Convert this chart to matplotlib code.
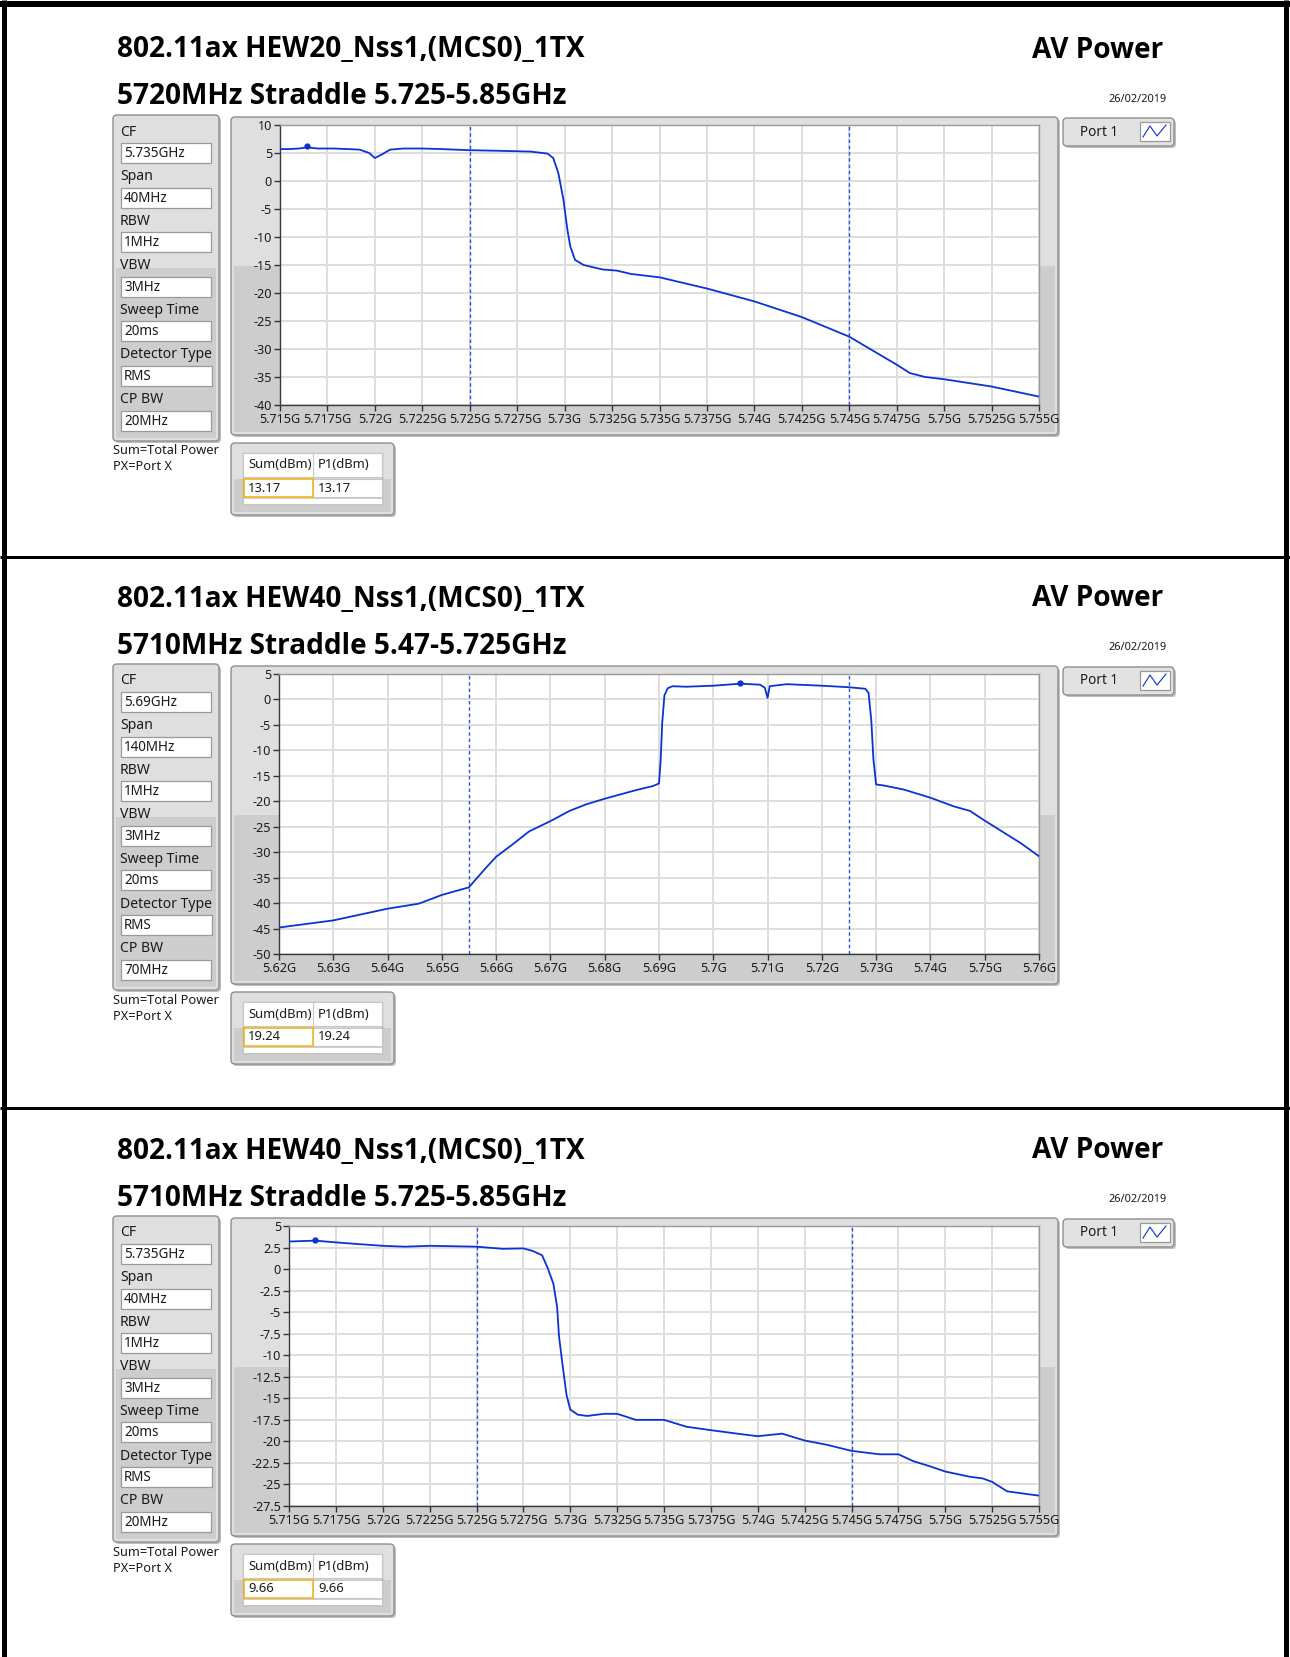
import matplotlib
matplotlib.use('Agg')
import matplotlib.pyplot as plt
from matplotlib.patches import FancyBboxPatch, Rectangle

# ==========================================
# CONFIGURATION
# ==========================================
W, H = 1290, 1657
PANEL_DY = [0, 549, 1101]

TITLE_FONT = ['Open Sans', 'DejaVu Sans']
SMALL_FONT = ['Noto Sans', 'DejaVu Sans']

TRACE_COLOR = '#0b32d6'
LIMIT_COLOR = '#2a52e0'

# ==========================================
# DATA
# ==========================================
TITLES = ["802.11ax HEW20_Nss1,(MCS0)_1TX",
          "802.11ax HEW40_Nss1,(MCS0)_1TX",
          "802.11ax HEW40_Nss1,(MCS0)_1TX"]
SUBTITLES = ["5720MHz Straddle 5.725-5.85GHz",
             "5710MHz Straddle 5.47-5.725GHz",
             "5710MHz Straddle 5.725-5.85GHz"]
DATE = "26/02/2019"

PARAM_NAMES = ["CF", "Span", "RBW", "VBW", "Sweep Time", "Detector Type", "CP BW"]
P1_PARAMS = ["5.735GHz", "40MHz", "1MHz", "3MHz", "20ms", "RMS", "20MHz"]
P2_PARAMS = ["5.69GHz", "140MHz", "1MHz", "3MHz", "20ms", "RMS", "70MHz"]
P3_PARAMS = ["5.735GHz", "40MHz", "1MHz", "3MHz", "20ms", "RMS", "20MHz"]

SUM_DBM = ["13.17", "19.24", "9.66"]
P1_DBM = ["13.17", "19.24", "9.66"]

# panel 1 : HEW20, 5.715 - 5.755 GHz
P1_FREQ = [5.7150, 5.7155, 5.7160, 5.7164, 5.7170, 5.7178, 5.7186, 5.7192, 5.7197,
           5.7200, 5.7204, 5.7208, 5.7215, 5.7225, 5.7235, 5.7250, 5.7265, 5.7282,
           5.7291, 5.7294, 5.72967, 5.72994, 5.73015, 5.7303, 5.73055, 5.7310,
           5.7320, 5.73275, 5.7335, 5.7350, 5.7375, 5.7400, 5.7425, 5.7450,
           5.7475, 5.7482, 5.7490, 5.7500, 5.7525, 5.7550]
P1_LEVEL = [5.7, 5.7, 5.8, 6.0, 5.8, 5.8, 5.7, 5.6, 5.0,
            4.1, 4.8, 5.6, 5.8, 5.8, 5.7, 5.5, 5.4, 5.25,
            4.9, 4.1, 1.4, -3.4, -8.8, -11.7, -14.1, -15.0,
            -15.8, -16.0, -16.6, -17.2, -19.2, -21.5, -24.3, -27.8,
            -32.8, -34.3, -35.0, -35.4, -36.7, -38.5]
P1_MARK_F, P1_MARK_DB = [5.7164], [6.2]
P1_LIMITS = [5.725, 5.745]
P1_XTICKS = [5.715, 5.7175, 5.72, 5.7225, 5.725, 5.7275, 5.73, 5.7325, 5.735,
             5.7375, 5.74, 5.7425, 5.745, 5.7475, 5.75, 5.7525, 5.755]
P1_YTICKS = [10, 5, 0, -5, -10, -15, -20, -25, -30, -35, -40]

# panel 2 : HEW40, 5.62 - 5.76 GHz
P2_FREQ = [5.620, 5.630, 5.640, 5.6458, 5.650, 5.655, 5.6562, 5.6581, 5.660, 5.663,
           5.6661, 5.670, 5.6735, 5.6766, 5.680, 5.6827, 5.6858, 5.6889, 5.6900,
           5.6903, 5.6906, 5.6910, 5.6916, 5.6925, 5.695, 5.700, 5.705, 5.7086,
           5.7095, 5.7100, 5.7104, 5.7135, 5.720, 5.725, 5.728, 5.7286, 5.7291,
           5.7295, 5.7300, 5.7314, 5.7351, 5.740, 5.7443, 5.7473, 5.750, 5.7536,
           5.7566, 5.760]
P2_LEVEL = [-44.8, -43.4, -41.1, -40.1, -38.4, -36.9, -35.4, -33.1, -30.9, -28.5,
            -25.9, -23.9, -21.9, -20.6, -19.5, -18.7, -17.8, -17.0, -16.5,
            -12.0, -4.5, 0.8, 2.2, 2.6, 2.5, 2.7, 3.1, 2.9,
            2.3, 0.3, 2.6, 3.0, 2.7, 2.4, 2.1, 1.3, -4.0,
            -11.8, -16.7, -16.9, -17.7, -19.3, -21.0, -21.9, -23.8, -26.2,
            -28.2, -30.8]
P2_MARK_F, P2_MARK_DB = [5.705], [3.2]
P2_LIMITS = [5.655, 5.725]
P2_XTICKS = [5.62, 5.63, 5.64, 5.65, 5.66, 5.67, 5.68, 5.69, 5.70, 5.71, 5.72,
             5.73, 5.74, 5.75, 5.76]
P2_YTICKS = [5, 0, -5, -10, -15, -20, -25, -30, -35, -40, -45, -50]

# panel 3 : HEW40, 5.715 - 5.755 GHz
P3_FREQ = [5.7150, 5.7164, 5.7175, 5.7187, 5.7200, 5.7212, 5.7225, 5.7250, 5.7264,
           5.7275, 5.7280, 5.7285, 5.7288, 5.7291, 5.7293, 5.7294, 5.7296, 5.7298,
           5.7300, 5.7304, 5.7309, 5.7318, 5.7325, 5.7335, 5.7350, 5.7362, 5.7375,
           5.7389, 5.7400, 5.7413, 5.7425, 5.7437, 5.7450, 5.7465, 5.7475, 5.7483,
           5.7492, 5.7500, 5.7513, 5.7520, 5.7525, 5.7533, 5.7550]
P3_LEVEL = [3.2, 3.3, 3.1, 2.9, 2.7, 2.6, 2.7, 2.6, 2.35,
            2.4, 2.1, 1.6, 0.1, -1.7, -4.4, -7.8, -11.3, -14.6,
            -16.3, -16.9, -17.05, -16.8, -16.8, -17.5, -17.5, -18.3, -18.7,
            -19.1, -19.4, -19.1, -19.9, -20.4, -21.1, -21.5, -21.5, -22.3,
            -22.9, -23.5, -24.1, -24.3, -24.7, -25.8, -26.3]
P3_MARK_F, P3_MARK_DB = [5.7164], [3.4]
P3_LIMITS = [5.725, 5.745]
P3_XTICKS = P1_XTICKS
P3_YTICKS = [5, 2.5, 0, -2.5, -5, -7.5, -10, -12.5, -15, -17.5, -20, -22.5, -25, -27.5]


# ==========================================
# HELPER FUNCTIONS
# ==========================================
def pt(px):
    """pixels -> points at dpi 100"""
    return px * 0.72


def fmt_ghz(v):
    s = f"{v:.4f}".rstrip('0').rstrip('.')
    return s + "G"


def px_axes(fig, x0, y0, x1, y1):
    return fig.add_axes([x0 / W, 1 - y1 / H, (x1 - x0) / W, (y1 - y0) / H])


def gray_frame(bg, x0, y0, x1, y1, split=0.47):
    w, h = x1 - x0, y1 - y0
    bg.add_patch(FancyBboxPatch((x0 + 2, y0 + 2), w, h, boxstyle='round,pad=0,rounding_size=4',
                                fc='#bdbdbd', ec='none', zorder=1))
    bg.add_patch(FancyBboxPatch((x0, y0), w, h, boxstyle='round,pad=0,rounding_size=4',
                                fc='#dfdfdf', ec='#8e8e8e', lw=1, zorder=2))
    bg.add_patch(Rectangle((x0 + 3, y0 + h * split), w - 6, h * (1 - split) - 3,
                           fc='#cdcdcd', ec='none', zorder=2))


def text_box(bg, x0, y0, x1, y1, txt):
    bg.add_patch(Rectangle((x0, y0), x1 - x0, y1 - y0, fc='white', ec='#9a9a9a', lw=0.9, zorder=3))
    bg.text(x0 + 3, (y0 + y1) / 2 + 0.5, txt, fontsize=pt(13.5), family=SMALL_FONT,
            va='center', ha='left', color='#1a1a1a', zorder=4)


def draw_panel(fig, bg, dy, title, subtitle, params, sum_val, p1_val,
               freq, level, mark_f, mark_db, limits, xticks, yticks, plot_left):
    # headings
    bg.text(117, 50 + dy, title, fontsize=pt(28), family=TITLE_FONT, fontweight='bold',
            va='center', ha='left', color='black')
    bg.text(117, 97 + dy, subtitle, fontsize=pt(28), family=TITLE_FONT, fontweight='bold',
            va='center', ha='left', color='black')
    bg.text(1163, 50 + dy, "AV Power", fontsize=pt(28), family=TITLE_FONT, fontweight='bold',
            va='center', ha='right', color='black')
    bg.text(1167, 99 + dy, DATE, fontsize=pt(11), family=SMALL_FONT,
            va='center', ha='right', color='#1a1a1a')

    # settings panel
    gray_frame(bg, 113, 115 + dy, 219, 441 + dy)
    for i, (name, val) in enumerate(zip(PARAM_NAMES, params)):
        ly = 132 + 44.6 * i + dy
        bg.text(120, ly, name, fontsize=pt(14), family=SMALL_FONT,
                va='center', ha='left', color='#1a1a1a', zorder=4)
        x1 = 212 if name == "Detector Type" else 211
        text_box(bg, 121, ly + 11, x1, ly + 31, val)
    bg.text(113, 451 + dy, "Sum=Total Power", fontsize=pt(12.8), family=SMALL_FONT,
            va='center', ha='left', color='#1a1a1a')
    bg.text(113, 467 + dy, "PX=Port X", fontsize=pt(12.8), family=SMALL_FONT,
            va='center', ha='left', color='#1a1a1a')

    # graph frame
    gray_frame(bg, 231, 117 + dy, 1058, 435 + dy)

    # legend
    bg.add_patch(FancyBboxPatch((1065, 120 + dy), 111, 28, boxstyle='round,pad=0,rounding_size=4',
                                fc='#bdbdbd', ec='none', zorder=1))
    bg.add_patch(FancyBboxPatch((1063, 118 + dy), 111, 28, boxstyle='round,pad=0,rounding_size=4',
                                fc='#e2e2e2', ec='#8e8e8e', lw=1, zorder=2))
    bg.text(1080, 132 + dy, "Port 1", fontsize=pt(13.5), family=SMALL_FONT,
            va='center', ha='left', color='#1a1a1a', zorder=4)
    bg.add_patch(Rectangle((1140, 122 + dy), 30, 19, fc='white', ec='#9a9a9a', lw=0.9, zorder=3))
    bg.plot([1143, 1150, 1157, 1166], [137 + dy, 126 + dy, 136 + dy, 125 + dy],
            color=TRACE_COLOR, lw=0.8, zorder=4)

    # sum table
    gray_frame(bg, 231, 443 + dy, 394, 515 + dy, split=0.5)
    bg.add_patch(Rectangle((243, 453 + dy), 139, 51, fc='#d6d6d6', ec='#9a9a9a', lw=0.9, zorder=3))
    bg.add_patch(Rectangle((243, 453 + dy), 139, 24, fc='white', ec='#c8c8c8', lw=0.8, zorder=3))
    bg.add_patch(Rectangle((313, 479 + dy), 69, 18, fc='white', ec='#c8c8c8', lw=0.8, zorder=3))
    bg.add_patch(Rectangle((244, 479 + dy), 69, 18, fc='white', ec='#f2b81e', lw=1.2, zorder=4))
    bg.add_patch(Rectangle((243, 498 + dy), 139, 6, fc='white', ec='#c8c8c8', lw=0.6, zorder=3))
    bg.plot([313, 313], [453 + dy, 477 + dy], color='#c8c8c8', lw=0.8, zorder=4)
    bg.text(248, 465 + dy, "Sum(dBm)", fontsize=pt(13), family=SMALL_FONT,
            va='center', ha='left', color='#1a1a1a', zorder=5)
    bg.text(318, 465 + dy, "P1(dBm)", fontsize=pt(13), family=SMALL_FONT,
            va='center', ha='left', color='#1a1a1a', zorder=5)
    bg.text(248, 488 + dy, sum_val, fontsize=pt(13), family=SMALL_FONT,
            va='center', ha='left', color='#1a1a1a', zorder=5)
    bg.text(318, 488 + dy, p1_val, fontsize=pt(13), family=SMALL_FONT,
            va='center', ha='left', color='#1a1a1a', zorder=5)

    # the spectrum plot
    ax = px_axes(fig, plot_left, 125 + dy, 1039, 405 + dy)
    ax.set_facecolor('white')
    ax.plot(freq, level, color=TRACE_COLOR, lw=1.3, zorder=3)
    ax.plot(mark_f, mark_db, 'o', color=TRACE_COLOR, ms=3.5, zorder=4)
    for lim in limits:
        ax.axvline(lim, color=LIMIT_COLOR, lw=1.0, ls=(0, (2.5, 2.0)), zorder=2)
    ax.set_xlim(xticks[0], xticks[-1])
    ax.set_ylim(yticks[-1], yticks[0])
    ax.set_xticks(xticks)
    ax.set_xticklabels([fmt_ghz(v) for v in xticks])
    ax.set_yticks(yticks)
    ax.set_yticklabels([f"{v:g}" for v in yticks])
    for lbl in ax.get_xticklabels() + ax.get_yticklabels():
        lbl.set_family(SMALL_FONT)
    ax.tick_params(axis='both', direction='out', length=pt(6), width=1, color='#333333',
                   labelsize=pt(12.6), labelcolor='#1a1a1a', pad=pt(2))
    ax.grid(True, color='#dedede', lw=1.4, zorder=0)
    ax.set_axisbelow(True)
    for side in ['left', 'bottom']:
        ax.spines[side].set_color('#3a3a3a')
        ax.spines[side].set_linewidth(1.0)
    for side in ['top', 'right']:
        ax.spines[side].set_color('#9a9a9a')
        ax.spines[side].set_linewidth(1.0)
    return ax


# ==========================================
# MAIN SCRIPT
# ==========================================
def main():
    fig = plt.figure(figsize=(W / 100, H / 100), dpi=100)
    fig.patch.set_facecolor('white')
    bg = fig.add_axes([0, 0, 1, 1])
    bg.set_xlim(0, W)
    bg.set_ylim(H, 0)
    bg.axis('off')

    # black outer border and separators
    bg.plot([4, 4], [0, H], color='black', lw=pt(5), solid_capstyle='butt')
    bg.plot([W - 4, W - 4], [0, H], color='black', lw=pt(5), solid_capstyle='butt')
    bg.plot([0, W], [4, 4], color='black', lw=pt(6), solid_capstyle='butt')
    bg.plot([0, W], [557, 557], color='black', lw=pt(3), solid_capstyle='butt')
    bg.plot([0, W], [1108, 1108], color='black', lw=pt(3), solid_capstyle='butt')

    panels = [
        (P1_PARAMS, P1_FREQ, P1_LEVEL, P1_MARK_F, P1_MARK_DB, P1_LIMITS, P1_XTICKS, P1_YTICKS, 280),
        (P2_PARAMS, P2_FREQ, P2_LEVEL, P2_MARK_F, P2_MARK_DB, P2_LIMITS, P2_XTICKS, P2_YTICKS, 279),
        (P3_PARAMS, P3_FREQ, P3_LEVEL, P3_MARK_F, P3_MARK_DB, P3_LIMITS, P3_XTICKS, P3_YTICKS, 289),
    ]
    for i, (params, fr, lv, mf, mdb, lims, xt, yt, left) in enumerate(panels):
        draw_panel(fig, bg, PANEL_DY[i], TITLES[i], SUBTITLES[i], params, SUM_DBM[i], P1_DBM[i],
                   fr, lv, mf, mdb, lims, xt, yt, left)

    fig.savefig("out.png", dpi=100, facecolor='white')


if __name__ == '__main__':
    main()
